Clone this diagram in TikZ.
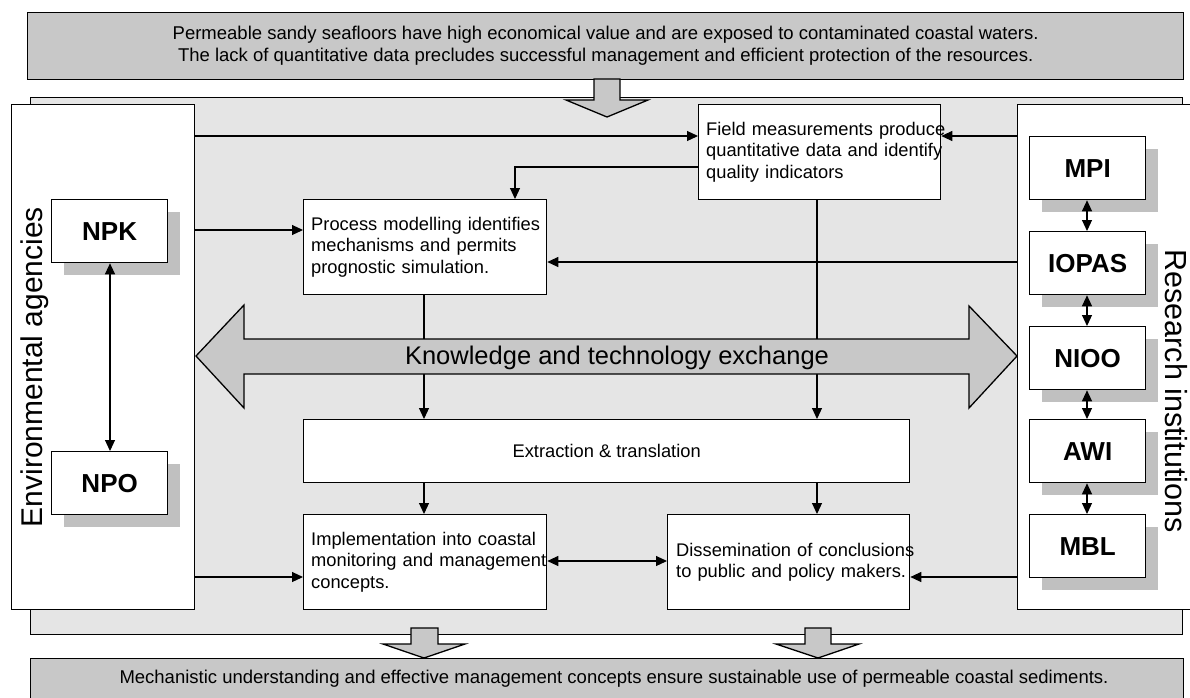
\documentclass[tikz,border=0pt]{standalone}
\usepackage{fontspec}
\setmainfont{Liberation Sans}
\usetikzlibrary{arrows.meta}
\definecolor{bannergray}{RGB}{200,200,200}
\definecolor{panelgray}{RGB}{229,229,229}
\definecolor{shadowgray}{RGB}{192,192,192}
\newcommand{\jline}[1]{\makebox[238pt][s]{#1}}
\begin{document}
\begin{tikzpicture}[x=1pt,y=-1pt,
  box/.style={draw=black, line width=1.3pt, fill=white, inner sep=0pt, anchor=north west},
  shadowbox/.style={fill=shadowgray, draw=none, inner sep=0pt, anchor=north west, minimum width=116pt, minimum height=63pt},
  instbox/.style={box, minimum width=116pt, minimum height=63pt, font=\fontsize{26}{30}\selectfont\bfseries},
  conn/.style={line width=1.1pt, -{Triangle[length=11pt,width=10pt]}},
  dconn/.style={line width=1.1pt, {Triangle[length=11pt,width=10pt]}-{Triangle[length=11pt,width=10pt]}},
  bodytext/.style={font=\fontsize{18.3}{21.5}\selectfont, inner sep=0pt, anchor=west, text width=238pt, align=left},
  fatarrow/.style={draw=black, line width=1.3pt, fill=bannergray, line join=miter}
]
\useasboundingbox (0,0) rectangle (1190,697);
\fill[white] (0,0) rectangle (1190,697);

% banners and panel
\node[box, fill=bannergray, minimum width=1156pt, minimum height=67pt, align=center,
      font=\fontsize{18.5}{22}\selectfont] (topbanner) at (27,12)
  {Permeable sandy seafloors have high economical value and are exposed to contaminated coastal waters.\\
   The lack of quantitative data precludes successful management and efficient protection of the resources.};
\node[box, fill=panelgray, minimum width=1152pt, minimum height=537pt] (panel) at (30,97) {};
\node[box, fill=bannergray, minimum width=1153pt, minimum height=42pt] (botbanner) at (30,658) {};
\node[font=\fontsize{18.5}{22}\selectfont, inner sep=0pt] (bottext) at (614,679)
  {Mechanistic understanding and effective management concepts ensure sustainable use of permeable coastal sediments.};

% side boxes
\node[box, minimum width=183pt, minimum height=505pt] (env) at (11,104) {};
\node[box, minimum width=185pt, minimum height=505pt] (res) at (1017,104) {};
\node[rotate=90, anchor=base, inner sep=0pt, font=\fontsize{30}{34}\selectfont] (envtext) at (42,367) {Environmental agencies};
\node[rotate=-90, anchor=base, inner sep=0pt, font=\fontsize{30.5}{34}\selectfont] (restext) at (1165,391) {Research institutions};

% agencies
\node[shadowbox] (npksh) at (64,212) {};
\node[instbox] (npk) at (51,199) {NPK};
\node[shadowbox] (nposh) at (64,464) {};
\node[instbox] (npo) at (51,451) {NPO};

% institutions
\node[shadowbox] (mpish) at (1042,149) {};
\node[instbox] (mpi) at (1029,136) {MPI};
\node[shadowbox] (iopassh) at (1042,244) {};
\node[instbox] (iopas) at (1029,231) {IOPAS};
\node[shadowbox] (nioosh) at (1042,339) {};
\node[instbox] (nioo) at (1029,326) {NIOO};
\node[shadowbox] (awish) at (1042,432) {};
\node[instbox] (awi) at (1029,419) {AWI};
\node[shadowbox] (mblsh) at (1042,527) {};
\node[instbox] (mbl) at (1029,514) {MBL};

% process boxes
\node[box, minimum width=242pt, minimum height=95pt] (field) at (698,104) {};
\node[bodytext] (fieldtext) at ([xshift=8pt]field.west)
  {\jline{Field measurements produce}\\\jline{quantitative data and identify}\\quality indicators};
\node[box, minimum width=243pt, minimum height=95pt] (proc) at (303,199) {};
\node[bodytext] (proctext) at ([xshift=8pt]proc.west)
  {\jline{Process modelling identifies}\\\jline{mechanisms and permits}\\prognostic simulation.};
\node[box, minimum width=606pt, minimum height=63pt, font=\fontsize{18.3}{21.5}\selectfont] (ext) at (303,419) {Extraction \& translation};
\node[box, minimum width=243pt, minimum height=95pt] (impl) at (303,514) {};
\node[bodytext] (impltext) at ([xshift=8pt]impl.west)
  {\jline{Implementation into coastal}\\\jline{monitoring and management}\\concepts.};
\node[box, minimum width=242pt, minimum height=95pt] (diss) at (667,514) {};
\node[bodytext] (disstext) at ([xshift=9pt]diss.west)
  {\mbox{Dissemination of conclusions}\\\mbox{to public and policy makers.}};

% helper coordinates
\coordinate (y136) at (0,136);
\coordinate (y167) at (0,167);
\coordinate (y230) at (0,230);
\coordinate (y262) at (0,262);
\coordinate (y561) at (0,561);
\coordinate (y577) at (0,577);
\coordinate (x424) at (424,0);
\coordinate (x515) at (515,0);
\coordinate (x817) at (817,0);
\coordinate (x110) at (110,0);
\coordinate (x1087) at (1087,0);

% connectors
\draw[conn] (env.east |- y136) -- (field.west |- y136);
\draw[conn] (res.west |- y136) -- (field.east |- y136);
\draw[conn] (field.west |- y167) -| (x515 |- proc.north);
\draw[conn] (env.east |- y230) -- (proc.west |- y230);
\draw[conn] (res.west |- y262) -- (proc.east |- y262);
\draw[conn] (x424 |- proc.south) -- (x424 |- ext.north);
\draw[conn] (x817 |- field.south) -- (x817 |- ext.north);
\draw[conn] (x424 |- ext.south) -- (x424 |- impl.north);
\draw[conn] (x817 |- ext.south) -- (x817 |- diss.north);
\draw[dconn] (impl.east |- y561) -- (diss.west |- y561);
\draw[conn] (env.east |- y577) -- (impl.west |- y577);
\draw[conn] (res.west |- y577) -- (diss.east |- y577);
\draw[dconn] (x110 |- npk.south) -- (x110 |- npo.north);
\draw[dconn] (x1087 |- mpi.south) -- (x1087 |- iopas.north);
\draw[dconn] (x1087 |- iopas.south) -- (x1087 |- nioo.north);
\draw[dconn] (x1087 |- nioo.south) -- (x1087 |- awi.north);
\draw[dconn] (x1087 |- awi.south) -- (x1087 |- mbl.north);

% big double arrow
\draw[fatarrow] (196,356) -- (244,305) -- (244,339) -- (969,339) -- (969,306) -- (1017,356)
  -- (969,408) -- (969,374) -- (244,374) -- (244,408) -- cycle;
\node[anchor=base, inner sep=0pt, font=\fontsize{25.5}{30}\selectfont] (ktext) at (617,364) {Knowledge and technology exchange};

% block arrows
\draw[fatarrow] (594,79) -- (620,79) -- (620,100) -- (648,100) -- (607,117) -- (566,100) -- (594,100) -- cycle;
\draw[fatarrow] (411,628) -- (438,628) -- (438,644) -- (465,644) -- (424,658) -- (383,644) -- (411,644) -- cycle;
\draw[fatarrow] (805,628) -- (831,628) -- (831,644) -- (859,644) -- (818,658) -- (776,644) -- (805,644) -- cycle;
\end{tikzpicture}
\end{document}
